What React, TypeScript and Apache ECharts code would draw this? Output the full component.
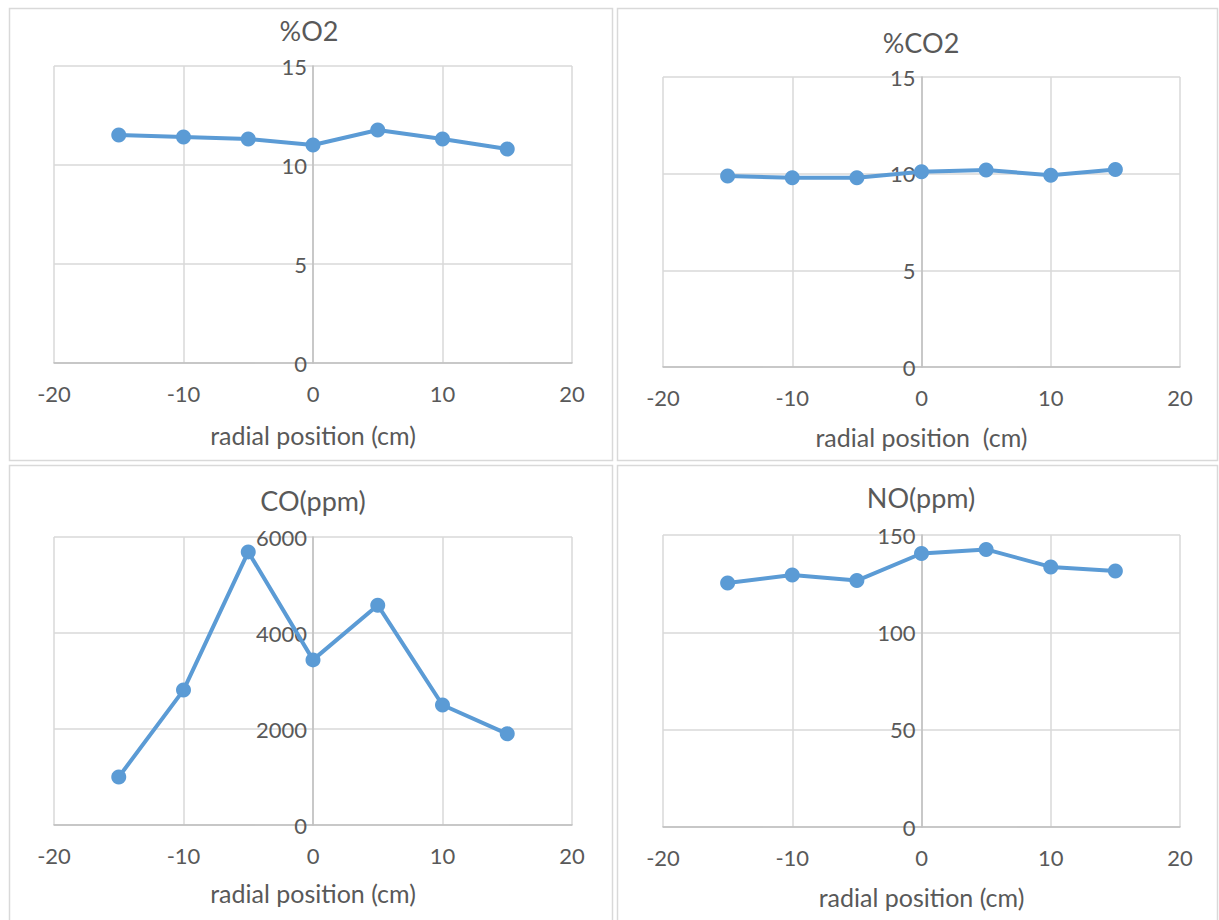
import React, { useEffect, useRef } from "react";
import * as echarts from "echarts";

const positions = [-15, -10, -5, 0, 5, 10, 15];
const o2Values = [11.52, 11.41, 11.31, 11.01, 11.77, 11.31, 10.81];
const co2Values = [9.88, 9.79, 9.79, 10.1, 10.19, 9.92, 10.21];
const coValues = [1000, 2810, 5690, 3440, 4580, 2500, 1900];
const noValues = [125.3, 129.5, 126.6, 140.5, 142.6, 133.6, 131.5];

const titles = ["%O2", "%CO2", "CO(ppm)", "NO(ppm)"];
const xNames = ["radial position (cm)", "radial position  (cm)", "radial position (cm)", "radial position (cm)"];
const yMax = [15, 15, 6000, 150];
const yStep = [5, 5, 2000, 50];
const xTicks = { min: -20, max: 20, step: 10 };

const FONT = "Lato, 'Noto Sans', sans-serif";
const TEXT = "#595959";
const BLUE = "#5B9BD5";

export default function App() {
  const ref = useRef<HTMLDivElement>(null);
  useEffect(() => {
    if (!ref.current) return;
    const chart = echarts.init(ref.current, undefined, { renderer: "svg" });
    const grids = [
      { left: 54, top: 66, width: 518, height: 297 },
      { left: 663, top: 77, width: 517, height: 290 },
      { left: 54, top: 537, width: 518, height: 288 },
      { left: 663, top: 535, width: 517, height: 292 },
    ];
    const titlePos = [
      [309, 30],
      [921, 42],
      [313, 500],
      [921, 497],
    ];
    const nameGaps = [59, 57, 55, 57];
    const seriesData = [o2Values, co2Values, coValues, noValues];
    const panels = [
      [9, 8, 603, 452],
      [617, 8, 600, 452],
      [9, 465, 603, 470],
      [617, 465, 600, 470],
    ];
    const option: any = {
      animation: false,
      backgroundColor: "#ffffff",
      textStyle: { fontFamily: FONT },
      grid: grids.map((g) => ({ ...g, containLabel: false })),
      xAxis: grids.map((_, i) => ({
        type: "value",
        gridIndex: i,
        min: xTicks.min,
        max: xTicks.max,
        interval: xTicks.step,
        name: xNames[i],
        nameLocation: "middle",
        nameGap: nameGaps[i],
        nameTextStyle: { color: TEXT, fontSize: 25, fontFamily: FONT },
        axisLine: { show: true, onZero: false, lineStyle: { color: "#bfbfbf", width: 1.5 } },
        axisTick: { show: false },
        axisLabel: { color: TEXT, fontSize: 22, margin: 19, fontFamily: FONT },
        splitLine: { show: true, lineStyle: { color: "#d9d9d9", width: 1.5 } },
      })),
      yAxis: grids.map((g, i) => ({
        type: "value",
        gridIndex: i,
        min: 0,
        max: yMax[i],
        interval: yStep[i],
        offset: -g.width / 2,
        axisLine: { show: true, onZero: false, lineStyle: { color: "#bfbfbf", width: 1.5 } },
        axisTick: { show: false },
        axisLabel: {
          color: TEXT,
          fontSize: 22,
          margin: 6,
          fontFamily: FONT,
          formatter: (v: number) => String(v),
        },
        splitLine: { show: true, lineStyle: { color: "#d9d9d9", width: 1.5 } },
      })),
      series: seriesData.map((vals, i) => ({
        type: "line",
        xAxisIndex: i,
        yAxisIndex: i,
        data: positions.map((p, j) => [p, vals[j]]),
        symbol: "circle",
        symbolSize: 15,
        lineStyle: { color: BLUE, width: 4 },
        itemStyle: { color: BLUE },
        z: 5,
      })),
      graphic: [
        ...panels.map((p) => ({
          type: "rect",
          shape: { x: p[0] + 0.5, y: p[1] + 0.5, width: p[2], height: p[3] },
          style: { fill: "none", stroke: "#d9d9d9", lineWidth: 1.5 },
          z: -1,
        })),
        ...titles.map((t, i) => ({
          type: "text",
          x: titlePos[i][0],
          y: titlePos[i][1],
          style: {
            text: t,
            align: "center",
            verticalAlign: "middle",
            fontSize: 27,
            fill: TEXT,
            fontFamily: FONT,
          },
        })),
      ],
    };
    chart.setOption(option);
    return () => chart.dispose();
  }, []);
  return (
    <div
      ref={ref}
      style={{ position: "absolute", left: 0, top: 0, width: 1219, height: 920, background: "#fff" }}
    />
  );
}
